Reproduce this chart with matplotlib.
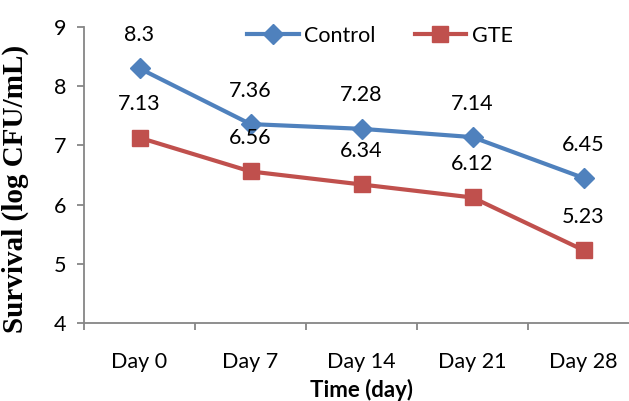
import matplotlib
matplotlib.use("Agg")
import matplotlib.pyplot as plt

categories = ["Day 0", "Day 7", "Day 14", "Day 21", "Day 28"]
control = [8.3, 7.36, 7.28, 7.14, 6.45]
gte = [7.13, 6.56, 6.34, 6.12, 5.23]

plt.rcParams['font.family'] = ['Lato', 'DejaVu Sans']
FS = 15.5

fig = plt.figure(figsize=(6.29, 4.01), dpi=100)
ax = fig.add_axes([84/629, 78/401, 555/629, 296/401])

x = list(range(len(categories)))
ax.plot(x, control, color='#4F81BD', lw=3, marker='D', ms=10, label='Control', clip_on=False)
ax.plot(x, gte, color='#C0504D', lw=3, marker='s', ms=12, label='GTE', clip_on=False)

for xi, v in zip(x, control):
    ax.annotate(f"{v:g}", (xi, v), xytext=(0, 24), textcoords='offset points',
                ha='center', va='center', fontsize=FS)
for xi, v in zip(x, gte):
    ax.annotate(f"{v:g}", (xi, v), xytext=(0, 24), textcoords='offset points',
                ha='center', va='center', fontsize=FS)

ax.set_xlim(-0.5, 4.5)
ax.set_ylim(4, 9)
ax.set_yticks([4, 5, 6, 7, 8, 9])
ax.set_xticks(x)
ax.set_xticklabels(categories, fontsize=FS)
ax.set_xticks([i - 0.5 for i in range(6)], minor=True)
ax.tick_params(axis='x', which='major', length=0, pad=21)
ax.tick_params(axis='x', which='minor', length=5, color='#868686', width=1.3)
ax.tick_params(axis='y', length=5, color='#868686', width=1.3, labelsize=FS, pad=8)

for s in ['top', 'right']:
    ax.spines[s].set_visible(False)
for s in ['left', 'bottom']:
    ax.spines[s].set_color('#868686')
    ax.spines[s].set_linewidth(1.3)

ax.set_ylabel("Survival (log CFU/mL)", family='Liberation Serif', fontweight='bold', fontsize=21)
ax.yaxis.set_label_coords(-(84-29)/555, (323-189)/296)
ax.set_xlabel("Time (day)", fontweight='bold', fontsize=16)
ax.xaxis.set_label_coords((362-84)/555, -(390-323)/296)
ax.xaxis.label.set_va('center')

leg = ax.legend(loc='upper center', bbox_to_anchor=((380-84)/555, 1.07), ncol=2, frameon=False,
                fontsize=FS, handlelength=2.4, columnspacing=1.8, handletextpad=0.25)

fig.savefig("out.png", dpi=100)
